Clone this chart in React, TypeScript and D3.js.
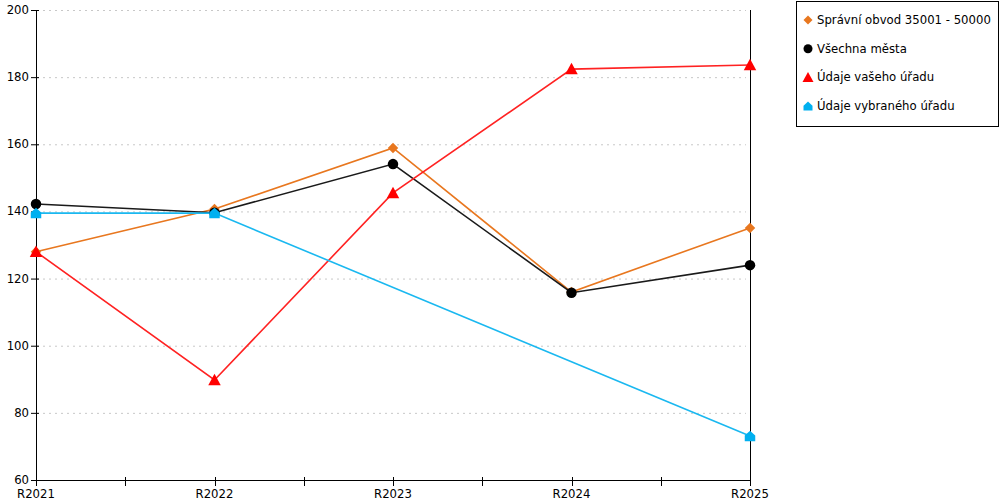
import { useEffect, useRef } from 'react';
import * as d3 from 'd3';

const categories = ['R2021', 'R2022', 'R2023', 'R2024', 'R2025'];

const spravniObvod = [128, 140.7, 158.9, 116, 135.1];
const vsechnaMesta = [142.2, 139.6, 154.1, 115.8, 124];
const vasehoUradu = [128, 89.8, 145.5, 182.4, 183.6];
const vybranehoUradu = [139.5, 139.5, null, null, 73.1];

const yTicks = [60, 80, 100, 120, 140, 160, 180, 200];

interface Series {
  name: string;
  values: (number | null)[];
  color: string;
  line: string;
  marker: 'diamond' | 'circle' | 'triangle' | 'house';
}

const series: Series[] = [
  { name: 'Správní obvod 35001 - 50000', values: spravniObvod, color: '#e8771f', line: '#e8771f', marker: 'diamond' },
  { name: 'Všechna města', values: vsechnaMesta, color: '#000000', line: '#1a1a1a', marker: 'circle' },
  { name: 'Údaje vašeho úřadu', values: vasehoUradu, color: '#ff0000', line: '#ff2222', marker: 'triangle' },
  { name: 'Údaje vybraného úřadu', values: vybranehoUradu, color: '#00b0f0', line: '#1ab8f0', marker: 'house' },
];

function markerPath(kind: Series['marker'], s: number) {
  const h = s / 2;
  if (kind === 'diamond') return `M0,${-h}L${h},0L0,${h}L${-h},0Z`;
  if (kind === 'circle') return `M${h},0A${h},${h} 0 1,1 ${-h},0A${h},${h} 0 1,1 ${h},0Z`;
  if (kind === 'triangle') return `M0,${-h - 1}L${h + 1},${h}L${-h - 1},${h}Z`;
  return `M0,${-h}L${h},${-h * 0.1}L${h},${h}L${-h},${h}L${-h},${-h * 0.1}Z`;
}

export default function App() {
  const svgRef = useRef<SVGSVGElement>(null);

  useEffect(() => {
    if (!svgRef.current) return;
    const svg = d3.select(svgRef.current);
    svg.selectAll('*').remove();

    const font = 'Tahoma, Verdana, "DejaVu Sans", sans-serif';
    const fontSize = 11.7;
    const left = 36, right = 750, top = 10, bottom = 480;

    const x = d3.scalePoint<string>().domain(categories).range([left, right]);
    const y = d3.scaleLinear().domain([60, 200]).range([bottom, top]);

    // grid
    svg.append('g')
      .selectAll('line')
      .data(yTicks.filter(t => t > 60))
      .join('line')
      .attr('x1', left + 1)
      .attr('x2', right - 4)
      .attr('y1', d => y(d) + 0.5)
      .attr('y2', d => y(d) + 0.5)
      .attr('stroke', '#c8c8c8')
      .attr('stroke-dasharray', '2,4');

    // y axis
    svg.append('line')
      .attr('x1', left + 0.5).attr('x2', left + 0.5)
      .attr('y1', top).attr('y2', bottom)
      .attr('stroke', '#000');
    svg.append('line')
      .attr('x1', right + 0.5).attr('x2', right + 0.5)
      .attr('y1', top).attr('y2', bottom)
      .attr('stroke', '#000');
    svg.append('g')
      .selectAll('line')
      .data(yTicks)
      .join('line')
      .attr('x1', left - 5).attr('x2', left + 3)
      .attr('y1', d => y(d) + 0.5).attr('y2', d => y(d) + 0.5)
      .attr('stroke', '#000');
    svg.append('g')
      .selectAll('text')
      .data(yTicks)
      .join('text')
      .attr('x', 29)
      .attr('y', d => y(d) + 4)
      .attr('text-anchor', 'end')
      .attr('font-family', font)
      .attr('font-size', fontSize)
      .text(d => d);

    // x axis
    svg.append('line')
      .attr('x1', left).attr('x2', right + 1)
      .attr('y1', bottom + 0.5).attr('y2', bottom + 0.5)
      .attr('stroke', '#000');
    const step = x.step();
    const xTickPos: number[] = [];
    categories.forEach((c, i) => {
      xTickPos.push(x(c)!);
      if (i < categories.length - 1) xTickPos.push(x(c)! + step / 2);
    });
    svg.append('g')
      .selectAll('line')
      .data(xTickPos)
      .join('line')
      .attr('x1', d => Math.round(d) + 0.5).attr('x2', d => Math.round(d) + 0.5)
      .attr('y1', bottom - 3).attr('y2', bottom + 6)
      .attr('stroke', '#000');
    svg.append('g')
      .selectAll('text')
      .data(categories)
      .join('text')
      .attr('x', d => x(d)!)
      .attr('y', 498)
      .attr('text-anchor', 'middle')
      .attr('font-family', font)
      .attr('font-size', fontSize)
      .text(d => d);

    // lines
    series.forEach(s => {
      const pts = s.values
        .map((v, i) => ({ c: categories[i], v }))
        .filter(p => p.v !== null) as { c: string; v: number }[];
      const line = d3.line<{ c: string; v: number }>()
        .x(p => x(p.c)!)
        .y(p => y(p.v));
      svg.append('path')
        .attr('d', line(pts))
        .attr('fill', 'none')
        .attr('stroke', s.line)
        .attr('stroke-width', 1.6);
    });

    // markers
    series.forEach(s => {
      svg.append('g')
        .selectAll('path')
        .data(s.values.map((v, i) => ({ c: categories[i], v })).filter(p => p.v !== null))
        .join('path')
        .attr('transform', p => `translate(${x(p.c)},${y(p.v as number)})`)
        .attr('d', markerPath(s.marker, 10.5))
        .attr('fill', s.color);
    });

    // legend
    const lg = svg.append('g');
    lg.append('rect')
      .attr('x', 796.5).attr('y', 1.5)
      .attr('width', 202).attr('height', 125)
      .attr('fill', '#fff').attr('stroke', '#000');
    series.forEach((s, i) => {
      const yy = 20 + i * 28.7;
      lg.append('path')
        .attr('transform', `translate(808,${yy})`)
        .attr('d', markerPath(s.marker, 9))
        .attr('fill', s.color);
      lg.append('text')
        .attr('x', 817)
        .attr('y', yy + 4)
        .attr('font-family', font)
        .attr('font-size', fontSize)
        .text(s.name);
    });
  }, []);

  return (
    <svg ref={svgRef} width={1000} height={500} style={{ position: 'absolute', left: 0, top: 0 }} />
  );
}
